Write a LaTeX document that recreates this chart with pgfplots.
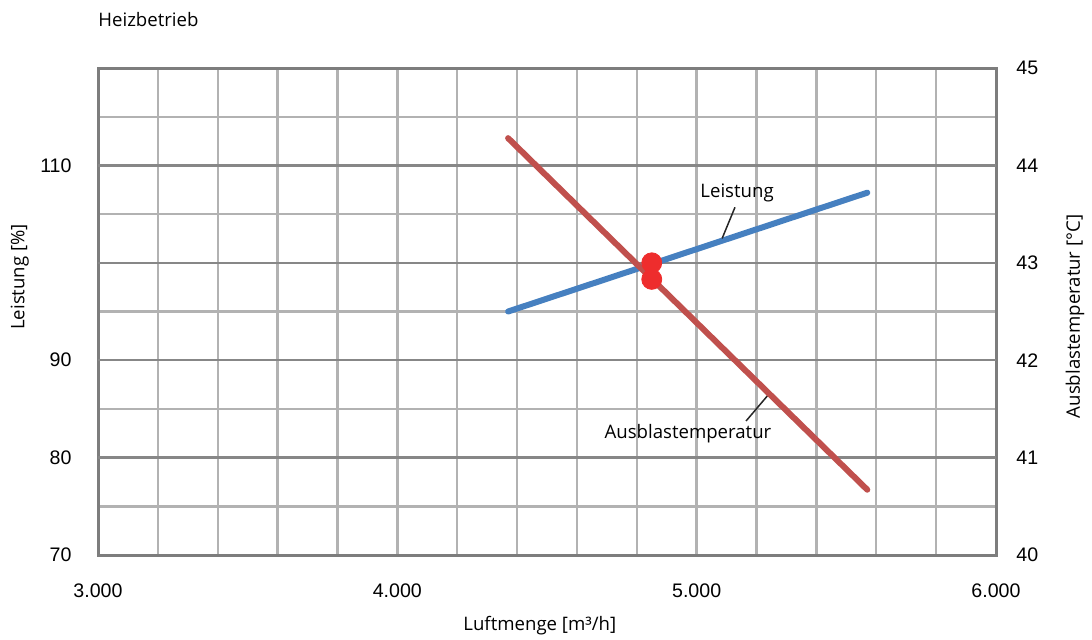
\documentclass[border=0pt]{standalone}
\usepackage{pgfplots}
\pgfplotsset{compat=1.18}
\usepackage{fontspec}
\setmainfont{Open Sans}
\newfontfamily\arialfont{Liberation Sans}
\definecolor{gridlight}{RGB}{178,178,178}
\definecolor{griddark}{RGB}{135,135,135}
\definecolor{framegray}{RGB}{125,125,125}
\definecolor{blueline}{RGB}{70,128,192}
\definecolor{redline}{RGB}{192,80,77}
\definecolor{dotred}{RGB}{238,45,45}
\newcommand{\lblfont}{\fontsize{9.3}{11}\selectfont}
\newcommand{\tickfont}{\arialfont\fontsize{9.8}{12}\selectfont}
\begin{document}
\begin{tikzpicture}
\path[use as bounding box] (-49pt,-42pt) rectangle (497pt,277.5pt);
\begin{axis}[
  at={(0,0)}, anchor=south west,
  scale only axis, width=449pt, height=243.5pt,
  xmin=3000, xmax=6000, ymin=70, ymax=120,
  xtick={3000,4000,5000,6000},
  xticklabels={3.000,4.000,5.000,6.000},
  minor xtick={3200,3400,...,5800},
  ytick={70,80,90,100,110,120},
  yticklabels={70,80,90,,110,},
  minor ytick={75,85,...,115},
  grid=both,
  major grid style={gridlight, line width=1.2pt},
  minor grid style={gridlight, line width=1.2pt},
  extra y ticks={80,90,100,110},
  extra y tick labels={},
  extra y tick style={grid=major, major grid style={griddark, line width=1.2pt}},
  major tick length=0pt, minor tick length=0pt,
  tick style={draw=none},
  axis line style={framegray, line width=1.5pt},
  /pgf/number format/assume math mode=true,
  xticklabel style={font=\tickfont, anchor=base, yshift=-21pt},
  yticklabel style={font=\tickfont, anchor=east, xshift=-9.7pt},
  title={Heizbetrieb},
  title style={at={(axis description cs:0,1.074)}, anchor=west, inner sep=0pt, font=\lblfont},
  xlabel={Luftmenge [m³/h]},
  xlabel style={at={(axis description cs:0.492,-0.146)}, anchor=center, font=\lblfont},
  ylabel={Leistung [\%]},
  ylabel style={at={(axis description cs:-0.087,0.571)}, anchor=center, font=\lblfont},
]
\addplot[blueline, line width=3pt, line cap=round] coordinates {(4370,95.0) (5570,107.2)};
\node[font=\lblfont] at (axis cs:5135,107.2) {Leistung};
\draw[black!85, line width=0.75pt] (axis cs:5128,105.7) -- (axis cs:5085,102.5);
\node[font=\lblfont] at (axis cs:4971,82.5) {Ausblastemperatur};
\draw[black!85, line width=0.75pt] (axis cs:5165,83.76) -- (axis cs:5238,86.4);
\end{axis}
\begin{axis}[
  at={(0,0)}, anchor=south west,
  scale only axis, width=449pt, height=243.5pt,
  xmin=3000, xmax=6000, ymin=40, ymax=45,
  axis x line=none,
  axis y line*=right,
  axis line style={draw=none},
  ytick={40,41,42,43,44,45},
  major tick length=0pt, minor tick length=0pt,
  tick style={draw=none},
  /pgf/number format/assume math mode=true,
  yticklabel style={font=\tickfont, anchor=west, xshift=6.7pt},
  ylabel={Ausblastemperatur [°C]},
  ylabel style={at={(axis description cs:1.088,0.49)}, anchor=center, rotate=0, font=\lblfont},
]
\addplot[redline, line width=3pt, line cap=round] coordinates {(4370,44.28) (5570,40.67)};
% Leistung operating point (100 % = 43.0 on this scale) and Ausblastemperatur point
\addplot[only marks, mark=*, mark size=5pt, dotred, mark options={draw=dotred, fill=dotred}] coordinates {(4850,43.0) (4850,42.83)};
\end{axis}
\end{tikzpicture}
\end{document}
